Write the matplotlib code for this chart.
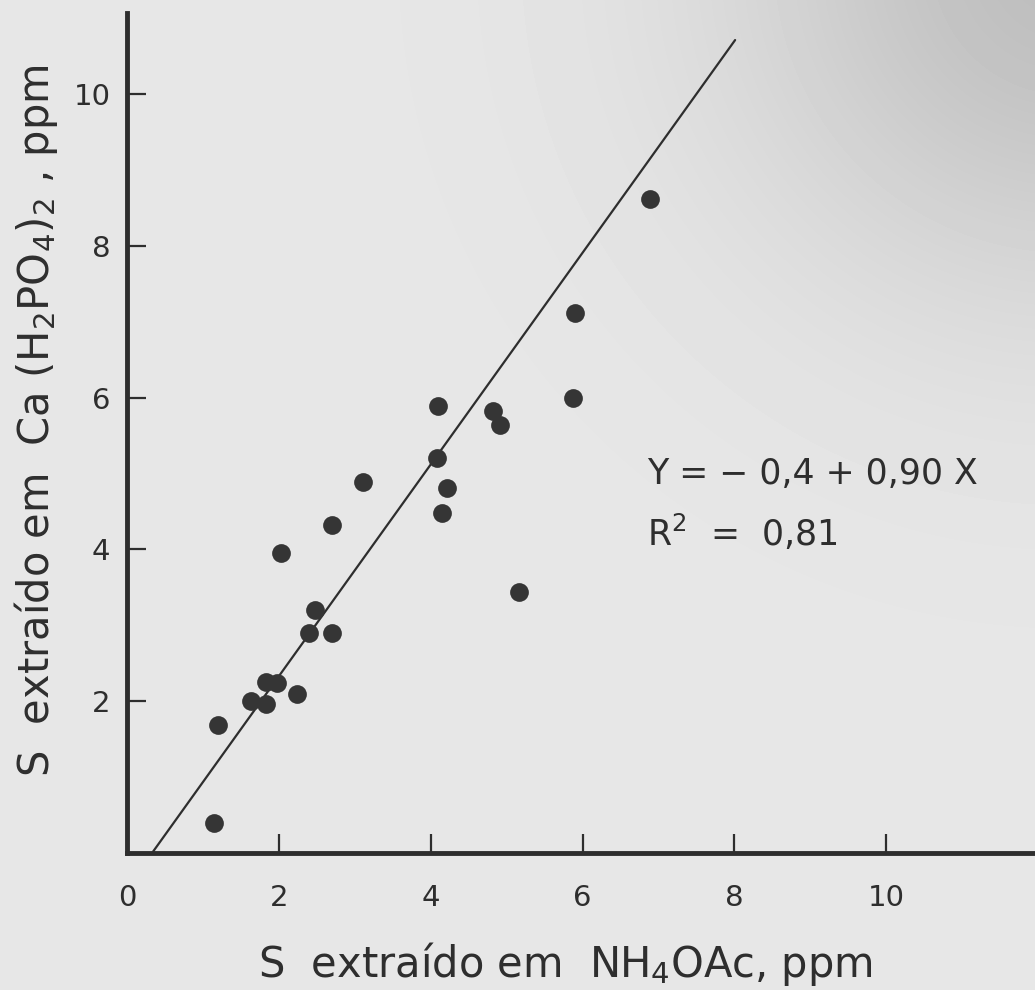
import matplotlib
matplotlib.use('Agg')
import matplotlib.pyplot as plt
import numpy as np

# S extracted with NH4OAc (x) vs Ca(H2PO4)2 (y), ppm
s_nh4oac = [1.15, 1.20, 1.63, 1.83, 1.83, 1.98, 2.24, 2.40, 2.70, 2.48, 2.03, 2.70,
            3.11, 4.15, 4.22, 4.08, 4.10, 4.82, 4.91, 5.16, 5.88, 5.90, 6.89]
s_ca = [0.40, 1.69, 2.00, 1.96, 2.25, 2.24, 2.09, 2.90, 2.90, 3.20, 3.95, 4.32,
        4.89, 4.48, 4.81, 5.20, 5.89, 5.82, 5.64, 3.44, 5.99, 7.11, 8.62]

# fitted line as drawn (slope, x where it meets the axis, x end)
line_slope = 1.395
line_x0 = 0.33
line_x1 = 8.01

x_ticks = [0, 2, 4, 6, 8, 10]
y_ticks = [2, 4, 6, 8, 10]

eq_text = 'Y = − 0,4 + 0,90 X'
r2_text = 'R$^2$  =  0,81'

plt.rcParams['font.family'] = ['DejaVu Sans']
plt.rcParams['mathtext.fontset'] = 'dejavusans'

bg = '#e7e7e7'
ink = '#2e2e2e'

W, H = 1035, 990
fig = plt.figure(figsize=(W / 100, H / 100), dpi=100, facecolor=bg)

# scanned page: light grey with a soft shadow in the top right corner
ax_bg = fig.add_axes([0, 0, 1, 1], zorder=-10)
gy, gx = np.mgrid[0:H, 0:W]
dist = np.hypot(gx - W * 1.03, gy + 40) / 330.0
shade = 0.905 - 0.16 * np.exp(-dist ** 2)
ax_bg.imshow(shade, cmap='gray', vmin=0, vmax=1, aspect='auto', interpolation='bilinear')
ax_bg.axis('off')

ax = fig.add_axes([127 / W, 137 / H, 908 / W, 840 / H])
ax.patch.set_alpha(0)

# regression line
lx = np.array([line_x0, line_x1])
ax.plot(lx, line_slope * (lx - line_x0), color=ink, linewidth=1.6, solid_capstyle='round')

# points
ax.plot(s_nh4oac, s_ca, 'o', color='#353535', markersize=13.5, markeredgewidth=0)

ax.set_xlim(0, 11.96)
ax.set_ylim(0, 11.07)

for side in ['top', 'right']:
    ax.spines[side].set_visible(False)
for side in ['left', 'bottom']:
    ax.spines[side].set_linewidth(3.5)
    ax.spines[side].set_color(ink)

ax.set_xticks(x_ticks)
ax.set_yticks(y_ticks)
ax.set_xticklabels([str(v) for v in x_ticks])
ax.set_yticklabels([str(v) for v in y_ticks])
ax.tick_params(axis='both', direction='in', length=14, width=1.6, color=ink,
               labelsize=21, labelcolor=ink)
ax.tick_params(axis='x', pad=22)
ax.tick_params(axis='y', pad=12)

ax.text(6.85, 4.99, eq_text, fontsize=25, color=ink, va='center', ha='left')
ax.text(6.85, 4.22, r2_text, fontsize=25, color=ink, va='center', ha='left')

ax.set_xlabel('S  extraído em  NH$_4$OAc, ppm', fontsize=30, color=ink)
ax.xaxis.set_label_coords(5.77 / 11.96, -0.103)
ax.set_ylabel('S  extraído em  Ca (H$_2$PO$_4$)$_2$ , ppm', fontsize=30, color=ink)
ax.yaxis.set_label_coords(-0.074, 5.70 / 11.07)

fig.savefig('out.png', dpi=100, facecolor=bg)
